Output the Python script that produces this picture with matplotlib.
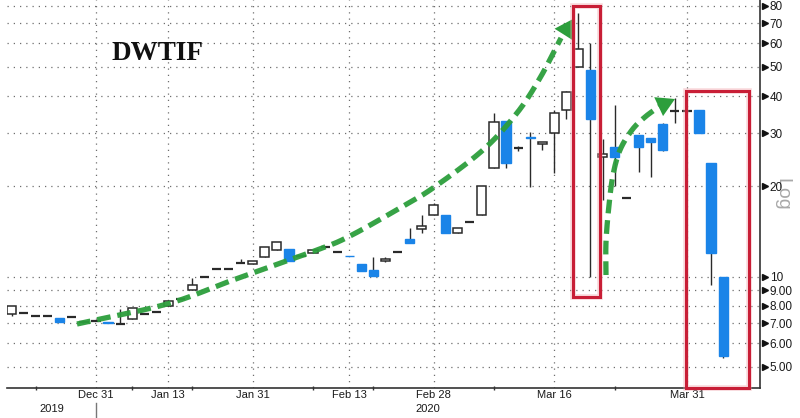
import numpy as np
import matplotlib
matplotlib.use("Agg")
import matplotlib.pyplot as plt
from matplotlib.transforms import Affine2D, blended_transform_factory
from matplotlib.patches import Rectangle

# ---------------- data (bar index, one bar per trading session) ----------------
bar_index = list(range(-7, 53))
open_ = [7.5, 7.55, 7.4, 7.4, 7.27, 7.35, 7.05, 7.1, 7.03, 6.97,
         7.2, 7.5, 7.6, 7.95, 8.4, 9.0, 9.95, 10.6, 10.6, 11.1,
         11.0, 11.6, 12.25, 12.35, 11.7, 12.0, 12.5, 12.05, 11.73, 11.0,
         10.5, 11.3, 12.05, 13.3, 14.4, 16.0, 16.1, 14.0, 15.2, 16.0,
         23.0, 33.0, 26.8, 29.3, 27.7, 30.1, 36.0, 50.0, 48.9, 25.0,
         27.0, 18.3, 29.6, 29.0, 32.3, 35.7, 35.7, 35.9, 23.9, 10.0]
high = [8.0, 7.55, 7.4, 7.4, 7.27, 7.35, 7.05, 7.1, 7.03, 7.78,
        7.85, 7.5, 7.6, 8.3, 8.4, 9.9, 9.95, 10.6, 10.6, 11.4,
        11.25, 12.5, 13.0, 12.35, 11.7, 12.25, 12.5, 12.05, 11.73, 11.0,
        11.6, 11.6, 12.05, 14.5, 16.0, 17.6, 16.1, 14.5, 15.2, 20.1,
        35.1, 33.0, 27.3, 30.3, 28.1, 35.9, 41.5, 75.7, 60.1, 28.7,
        37.3, 18.3, 29.6, 29.0, 32.5, 39.4, 35.7, 35.9, 23.9, 10.0]
low = [7.4, 7.55, 7.4, 7.4, 7.05, 7.35, 7.05, 7.1, 7.0, 6.97,
       7.2, 7.5, 7.6, 7.95, 8.4, 9.0, 9.95, 10.6, 10.6, 11.1,
       11.0, 11.6, 12.25, 11.27, 11.7, 12.0, 12.5, 12.05, 11.68, 10.43,
       10.04, 11.15, 12.05, 12.9, 13.96, 16.0, 13.96, 14.0, 15.2, 16.0,
       23.0, 23.0, 26.3, 19.9, 26.4, 22.1, 33.5, 50.0, 9.96, 18.0,
       20.0, 18.3, 22.3, 21.5, 26.2, 32.6, 35.7, 30.1, 9.37, 5.36]
close = [7.97, 7.55, 7.4, 7.4, 7.05, 7.35, 7.05, 7.1, 7.0, 6.97,
         7.85, 7.5, 7.6, 8.3, 8.4, 9.37, 9.95, 10.6, 10.6, 11.1,
         11.25, 12.5, 13.0, 11.27, 11.7, 12.25, 12.5, 12.05, 11.68, 10.43,
         10.04, 11.45, 12.05, 12.9, 14.7, 17.3, 13.96, 14.5, 15.2, 20.0,
         32.7, 23.9, 26.8, 28.9, 28.1, 35.1, 41.2, 57.4, 33.5, 25.6,
         25.0, 18.3, 27.0, 28.1, 26.4, 35.7, 35.7, 30.1, 12.0, 5.43]

x_tick_pos = [0, 6, 13, 21, 28, 38, 49]
x_tick_labels = ["Dec 31", "Jan 13", "Jan 31", "Feb 13", "Feb 28", "Mar 16", "Mar 31"]
x_minor_pos = [-5, 3, 8, 18, 23, 33, 43]
year_labels = ["2019", "2020"]
year_pos = [-3.65, 27.5]

y_ticks = [5, 6, 7, 8, 9, 10, 20, 30, 40, 50, 60, 70, 80]
y_tick_labels = ["5.00", "6.00", "7.00", "8.00", "9.00", "10", "20", "30", "40", "50", "60", "70", "80"]

title = "DWTIF"

# ---------------- styling ----------------
BLUE = "#1a84e8"
EDGE = "#2a2a2a"
GREEN = "#2c9e3c"
RED = "#c81e36"
GRID = "#6e6e6e"

plt.rcParams["font.family"] = ["Liberation Sans", "DejaVu Sans"]

fig = plt.figure(figsize=(8.0, 4.18), dpi=100)
ax = fig.add_axes([7 / 800, 30 / 418, 753 / 800, 388 / 418])
ax.set_yscale("log")
ax.set_ylim(4.25, 83.6)
ax.set_xlim(-7.38, 55.06)

x = np.array(bar_index, dtype=float)
o = np.array(open_)
h = np.array(high)
l = np.array(low)
c = np.array(close)
w = 0.76

# wicks
ax.vlines(x, l, h, color=EDGE, lw=1.0, zorder=3)

up = c > o
dn = c < o
flat = c == o
ax.bar(x[up], c[up] - o[up], bottom=o[up], width=w, facecolor="white",
       edgecolor=EDGE, linewidth=1.1, zorder=4)
ax.bar(x[dn], o[dn] - c[dn], bottom=c[dn], width=w, facecolor=BLUE,
       edgecolor=BLUE, linewidth=1.0, zorder=4)
ax.hlines(o[flat], x[flat] - w / 2, x[flat] + w / 2, color=EDGE, lw=1.6, zorder=4)

# axes cosmetics
for s in ["left", "top"]:
    ax.spines[s].set_visible(False)
for s in ["right", "bottom"]:
    ax.spines[s].set_color("#333333")
    ax.spines[s].set_linewidth(1.2)

ax.yaxis.tick_right()
ax.set_yticks(y_ticks)
ax.set_yticklabels(y_tick_labels)
ax.yaxis.set_minor_locator(matplotlib.ticker.NullLocator())
ax.tick_params(axis="y", length=0, pad=7, labelsize=8.5, labelcolor="#1a1a1a")
ytr = blended_transform_factory(ax.transAxes, ax.transData)
ax.plot([1.006] * len(y_ticks), y_ticks, ls="", marker=">", ms=4, color="#111111",
        transform=ytr, clip_on=False, zorder=6)

ax.set_xticks(x_tick_pos)
ax.set_xticklabels(x_tick_labels)
ax.set_xticks(x_minor_pos, minor=True)
ax.tick_params(axis="x", which="major", length=0, pad=1.5, labelsize=8, labelcolor="#1a1a1a")
ax.tick_params(axis="x", which="minor", length=3, direction="inout", color="#333333", width=1)

ax.grid(True, which="major", axis="both", linestyle=(0, (1, 4)), color=GRID, lw=0.9)
ax.set_axisbelow(True)

xtr = blended_transform_factory(ax.transData, ax.transAxes)
for lab, p in zip(year_labels, year_pos):
    ax.text(p, -21.5 / 388, lab, transform=xtr, ha="center", va="center", fontsize=8, color="#1a1a1a")
ax.plot([0, 0], [-0.038, -0.075], transform=xtr, color="#777777", lw=1, clip_on=False)

ax.text(1.0 + 22 / 753, 0.50, "Log", transform=ax.transAxes, rotation=270, ha="center",
        va="center", fontsize=14, color="#a8a8a8", zorder=0)

# ---------------- annotations (pixel coordinates, top-left origin) ----------------
PX = Affine2D().scale(1 / 800, -1 / 418).translate(0, 1) + fig.transFigure

fig.text(157 / 800, 1 - 54 / 418, title, fontsize=19.5, fontweight="bold",
         family="Liberation Serif", ha="center", va="center", color="#111111")


def smooth(pts, n=24):
    P = np.asarray(pts, float)
    P = np.vstack([2 * P[0] - P[1], P, 2 * P[-1] - P[-2]])
    out = []
    t = np.linspace(0, 1, n, endpoint=False)[:, None]
    for i in range(1, len(P) - 2):
        p0, p1, p2, p3 = P[i - 1], P[i], P[i + 1], P[i + 2]
        out.append(0.5 * (2 * p1 + (-p0 + p2) * t + (2 * p0 - 5 * p1 + 4 * p2 - p3) * t ** 2
                          + (-p0 + 3 * p1 - 3 * p2 + p3) * t ** 3))
    out.append(P[-2][None])
    return np.vstack(out)


arrow1 = [(77, 324), (167, 304), (233, 280), (317, 250), (350, 236), (400, 208),
          (433, 188), (483, 150), (517, 113), (540, 78), (561, 38)]
arrow2 = [(606, 275), (606, 242), (609, 205), (613, 175), (620, 150), (632, 130),
          (645, 117), (660, 106)]
for pts, tip in [(arrow1, (573, 19)), (arrow2, (675, 99))]:
    s = smooth(pts)
    fig.add_artist(plt.Line2D(s[:, 0], s[:, 1], transform=PX, color=GREEN, lw=3.8,
                              linestyle=(0, (2.6, 1.3)), dash_capstyle="butt", alpha=0.95))
    fig.add_artist(matplotlib.patches.FancyArrowPatch(
        posA=tuple(s[-1]), posB=tip, transform=PX, arrowstyle="-|>,head_length=1.3,head_width=0.75",
        mutation_scale=10, color=GREEN, lw=0, shrinkA=0, shrinkB=0))

for (x0, y0, x1, y1) in [(573, 6, 600, 297), (686, 91, 749, 388)]:
    fig.add_artist(Rectangle((x0, y0), x1 - x0, y1 - y0, transform=PX, fill=False,
                             edgecolor="#f0a0a8", lw=4.0, alpha=0.4))
    fig.add_artist(Rectangle((x0, y0), x1 - x0, y1 - y0, transform=PX, fill=False,
                             edgecolor=RED, lw=2.2))

fig.savefig("out.png", dpi=100, facecolor="white")
